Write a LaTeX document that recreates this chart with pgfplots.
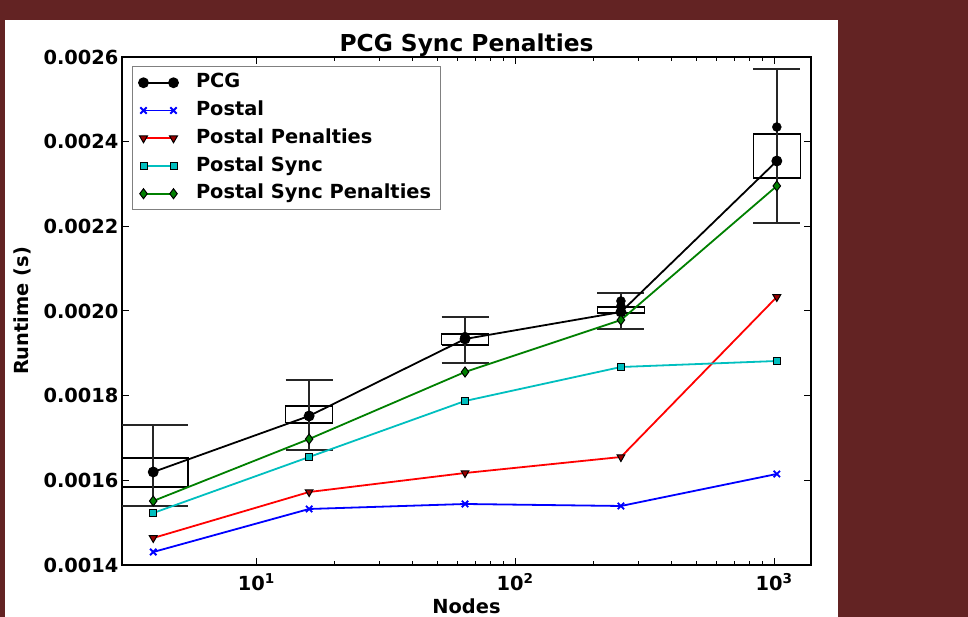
\documentclass[border=0pt]{standalone}
\usepackage{fontspec}
\setmainfont{DejaVu Sans}
\usepackage{pgfplots}
\pgfplotsset{compat=1.18}
\definecolor{bgmaroon}{RGB}{99,35,35}
\definecolor{mplcyan}{RGB}{0,191,191}
\definecolor{mplgreen}{RGB}{0,128,0}
\newcommand{\lblfont}{\fontsize{19.4}{23}\selectfont\bfseries}
\begin{document}
\begin{tikzpicture}[x=1pt,y=1pt]
\useasboundingbox (0,0) rectangle (968,617);
\fill[bgmaroon] (0,0) rectangle (968,617);
\fill[white] (5,0) rectangle (838,597);
\begin{axis}[
  at={(122pt,52pt)}, anchor=south west,
  scale only axis, width=689pt, height=508pt,
  xmode=log, xmin=3.03, xmax=1388,
  ymin=0.0014, ymax=0.0026,
  ytick={0.0014,0.0016,0.0018,0.0020,0.0022,0.0024,0.0026},
  yticklabels={0.0014,0.0016,0.0018,0.0020,0.0022,0.0024,0.0026},
  scaled y ticks=false,
  xtick={10,100,1000},
  xticklabels={10\textsuperscript{1},10\textsuperscript{2},10\textsuperscript{3}},
  ticklabel style={font=\lblfont},
  xticklabel style={anchor=base, yshift=-26pt},
  axis line style={line width=1.5pt},
  major tick length=7pt, minor tick length=4pt,
  every tick/.style={black, line width=1pt},
  title={PCG Sync Penalties},
  title style={font=\fontsize{23.3}{27}\selectfont\bfseries, at={(axis description cs:0.5,1)}, anchor=base, yshift=-0.5pt},
  xlabel={Nodes}, ylabel={Runtime (s)},
  label style={font=\lblfont},
  xlabel style={at={(axis description cs:0.5,0)}, anchor=base, yshift=-49pt},
  ylabel style={at={(axis description cs:-0.135,0.5)}, anchor=base},
  unbounded coords=jump,
  legend cell align=left,
  legend style={at={(axis description cs:0,1)}, anchor=north west, xshift=10pt, yshift=-9pt,
    draw=gray, line width=1pt, font=\lblfont, inner xsep=6.5pt, inner ysep=4pt,
    row sep=3.25pt, column sep=15pt,
    nodes={inner sep=3pt, text height=14.5pt, text depth=4pt}},
  legend image code/.code={\draw[#1] plot coordinates {(0pt,0pt) (30pt,0pt)};},
]
% box of the PCG runs at each node count
\addplot[black, line width=1.5pt, forget plot] coordinates {
  (2.94,0.0015843) (5.446,0.0015843) (5.446,0.0016528) (2.94,0.0016528) (2.94,0.0015843)
  (5,nan)
  (12.98,0.0017354) (19.72,0.0017354) (19.72,0.0017756) (12.98,0.0017756) (12.98,0.0017354)
  (20,nan)
  (51.92,0.0019197) (78.9,0.0019197) (78.9,0.0019457) (51.92,0.0019457) (51.92,0.0019197)
  (80,nan)
  (207.7,0.0019953) (315.5,0.0019953) (315.5,0.0020094) (207.7,0.0020094) (207.7,0.0019953)
  (320,nan)
  (830.8,0.0023142) (1262.2,0.0023142) (1262.2,0.0024181) (830.8,0.0024181) (830.8,0.0023142)
};
% whiskers and caps
\addplot[black!85, line width=2pt, forget plot] coordinates {
  (4,0.0015394) (4,0.0017307) (5,nan)
  (2.94,0.0017307) (5.446,0.0017307) (5,nan)
  (2.94,0.0015394) (5.446,0.0015394) (5,nan)
  (16,0.0016717) (16,0.0018370) (17,nan)
  (12.98,0.0018370) (19.72,0.0018370) (17,nan)
  (12.98,0.0016717) (19.72,0.0016717) (17,nan)
  (64,0.0018772) (64,0.0019858) (65,nan)
  (51.92,0.0019858) (78.9,0.0019858) (65,nan)
  (51.92,0.0018772) (78.9,0.0018772) (65,nan)
  (256,0.0019575) (256,0.0020425) (257,nan)
  (207.7,0.0020425) (315.5,0.0020425) (257,nan)
  (207.7,0.0019575) (315.5,0.0019575) (257,nan)
  (1024,0.0022079) (1024,0.0025717) (1025,nan)
  (830.8,0.0025717) (1262.2,0.0025717) (1025,nan)
  (830.8,0.0022079) (1262.2,0.0022079)
};
% individual PCG runs
\addplot[only marks, mark=*, mark size=4.5pt, black, forget plot] coordinates {
  (64,0.0019395) (256,0.0020236) (256,0.0020118) (1024,0.0024346)
};
\addplot[black, line width=1.8pt, mark=*, mark size=4.5pt] coordinates {
  (4,0.0016197) (16,0.0017520) (64,0.0019339) (256,0.0019976) (1024,0.0023543)
};
\addlegendentry{PCG}
\addplot[blue, line width=1.8pt, mark=x, mark size=4.5pt] coordinates {
  (4,0.0014307) (16,0.0015323) (64,0.0015441) (256,0.0015394) (1024,0.0016150)
};
\addlegendentry{Postal}
\addplot[red, line width=1.8pt, mark=triangle*, mark size=4.5pt,
  mark options={rotate=180, fill=red!60!black, draw=black, line width=1pt}] coordinates {
  (4,0.0014638) (16,0.0015724) (64,0.0016173) (256,0.0016551) (1024,0.0020331)
};
\addlegendentry{Postal Penalties}
\addplot[mplcyan, line width=1.8pt, mark=square*, mark size=3.5pt,
  mark options={fill=mplcyan, draw=black, line width=1pt}] coordinates {
  (4,0.0015228) (16,0.0016551) (64,0.0017874) (256,0.0018677) (1024,0.0018819)
};
\addlegendentry{Postal Sync}
\addplot[mplgreen, line width=1.8pt, mark=diamond*, mark size=5pt,
  mark options={fill=mplgreen, draw=black, line width=1pt}] coordinates {
  (4,0.0015512) (16,0.0016976) (64,0.0018559) (256,0.0019787) (1024,0.0022953)
};
\addlegendentry{Postal Sync Penalties}
\end{axis}
\end{tikzpicture}
\end{document}
